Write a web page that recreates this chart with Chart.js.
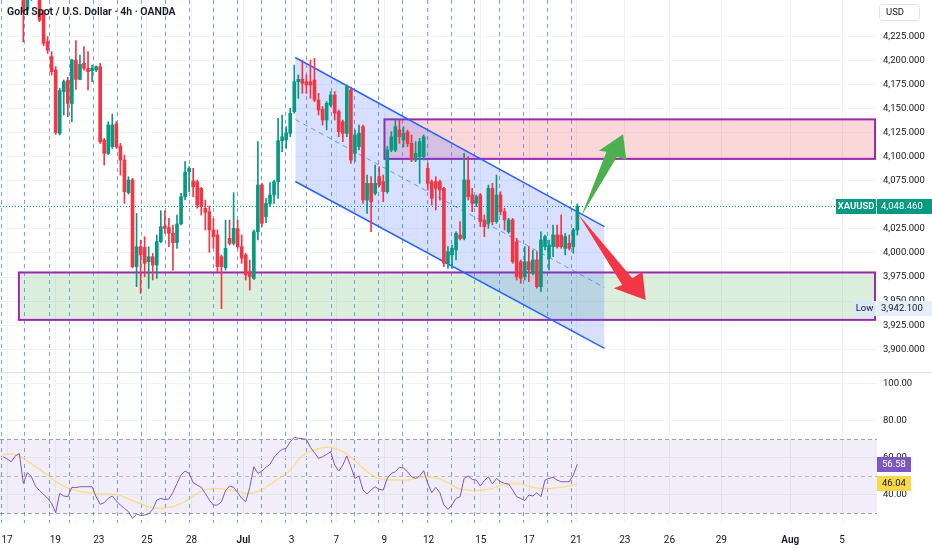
<!DOCTYPE html>
<html><head><meta charset="utf-8">
<script src="https://cdn.jsdelivr.net/npm/chart.js@4.4.1/dist/chart.umd.min.js"></script>
<style>
html,body{margin:0;padding:0;background:#fff;}
#wrap{position:relative;width:932px;height:550px;}
canvas{display:block;}
</style></head><body>
<div id="wrap"><canvas id="c" width="932" height="550"></canvas></div>
<script>
// ---------------- data ----------------
const chartTitle = 'Gold Spot / U.S. Dollar · 4h · OANDA';
const symbolName = 'XAUUSD';
const currencyLabel = 'USD';

const candleOpen = [4280,4288,4282,4290,4298,4275,4252,4268,4285,4280,
4248.7,4219.3,4203.7,4189.8,4124.1,4167.4,4178.8,4155.2,4200.2,4180.1,
4196.8,4191.6,4189.1,4189.8,4193.3,4117.2,4103.3,4110.3,4133.8,4111,
4096.4,4062.5,4075.7,3985.7,4006.4,4005.8,3990.9,3996.1,3987.4,4011.7,
4027.9,4026.2,4020.3,4010.6,4030,4058.4,4084.3,4074.6,4073.9,4067,
4046.3,4042.8,4023.8,4018.6,3996.1,3984.7,4015.1,4009.9,4025.1,4006.5,
3997.8,3980.5,3973.6,4022,4070.5,4037.6,4051.4,4060.1,4073.9,4116.5,
4117.2,4124.1,4146.6,4177.7,4180.2,4177.7,4177.7,4179.5,4158.7,4149,
4137.9,4153.5,4163.9,4146.6,4136.2,4124.1,4169.1,4103.3,4110.3,4131,
4054.9,4072.2,4061.8,4079.1,4074,4063.6,4106.8,4106.8,4127.6,4117.2,
4125.8,4113.7,4096.4,4099.9,4099.9,4087.8,4073.9,4074,4074,4067,
3989.2,3997.9,4003,4018.6,4015.1,4075.7,4060.1,4051.5,4060.1,4034.2,
4030.7,4067,4032.4,4060.1,4042.8,4022,4034.2,4011.7,3990.9,3975.4,
3990.9,3978.8,3992.7,3965,4006.5,3994.4,4006.5,4018.6,4018.6,4004.8,
4010,4006.5,4023.8];
const candleHigh = [4295,4300,4292,4305,4302,4282,4275,4290,4292,4288,
4252,4224.4,4208.9,4193.3,4170.8,4179.5,4182.2,4201,4220.3,4205.4,
4214.1,4208.9,4195,4194.3,4196.8,4118.9,4136.2,4144.2,4136.2,4113.7,
4101.6,4079.1,4077.4,4041,4013.4,4016.8,4006.5,3999.5,4018.6,4043.8,
4043.8,4035.9,4029,4039.3,4061.8,4094.7,4089.5,4087.8,4075.7,4068,
4054.9,4048.7,4035.9,4023.8,3997.8,4034.1,4034.1,4062.5,4034.1,4018.6,
3999.5,3992.6,4023.8,4115.5,4072.2,4056.6,4072.9,4075.7,4139.7,4143.1,
4131,4150,4195,4184.7,4200.2,4184.7,4200.2,4202,4165.6,4151.8,
4157,4167.4,4167.4,4148.3,4137.9,4174.3,4172,4127.6,4132.7,4132.7,
4080.9,4079.1,4091.2,4089.5,4080.9,4110.3,4125.8,4137.9,4137.9,4131,
4127.6,4122.4,4115.5,4118.9,4122.4,4093,4075.7,4079.1,4075.7,4068,
4006.5,4008.2,4022,4032.4,4103.4,4099.9,4067,4060.1,4061.8,4039.4,
4070.5,4072.2,4080.9,4063.6,4046.3,4035.9,4035.9,4015.1,3992.7,4006.5,
4006.5,4003,4001.3,4022,4018.6,4013.4,4029,4029,4039.4,4020.3,
4018.6,4025.5,4050.8];
const candleLow = [4270,4278,4272,4284,4268,4219,4248,4262,4270,4240,
4215,4207,4184.6,4123,4122.4,4143.1,4141.4,4136.2,4169.7,4179.5,
4189.8,4169.1,4177.7,4188.1,4113.7,4091.2,4102,4108.5,4108.5,4080.8,
4051.4,4061,3984.5,3965,3958,3975.3,3963.2,3971.9,3973.6,4010.5,
4020.3,4006.5,3982.2,4004.7,4029,4054.9,4063.6,4058.4,4046.3,4039.3,
4023.8,4000.6,4004.7,3980.5,3942.1,3982.2,4008.2,4008.2,4004.7,3989.2,
3971.9,3961.5,3972.5,4013.4,4027.2,4031.4,4048,4051.4,4056.6,4105.1,
4108.5,4120.6,4144.9,4160.4,4165.6,4165.6,4160.4,4157,4143.1,4132.7,
4127.6,4151.8,4137.9,4120.6,4115.5,4120.6,4093,4094.7,4106.8,4051.4,
4041,4022,4060.1,4068.7,4053.2,4061.8,4105,4105,4113.7,4110,
4110.3,4094.7,4094.7,4072.2,4096.4,4065.3,4049.7,4044.6,4055,3985.7,
3984,3984,3992.7,4013.4,4013.4,4055,4042.8,4048,4027.3,4016.9,
4025.5,4029,4030.7,4039.4,4023.8,4020.3,3989.2,3971.9,3968.4,3971.9,
3970.2,3977.1,3963.3,3959.8,4003,3982.3,3996.1,4004.8,4004.8,3997.9,
4003,3999.6,4018.6];
const candleClose = [4288,4282,4290,4298,4275,4250,4268,4285,4280,4241.7,
4217.5,4210.6,4188.1,4124.8,4168.4,4177.7,4155.2,4200.2,4180.1,4195.7,
4191.6,4188.1,4191.6,4193.3,4115.5,4103.3,4132.8,4132.8,4110.3,4096.4,
4063.6,4075.7,3985.7,4006.4,3997.8,3989.2,3996.1,3987.4,4011.7,4027.2,
4025.5,4020.3,4010.6,4030,4058.4,4083.6,4087.8,4068.7,4049.7,4048,
4042.1,4023.8,4016.9,3985.7,3985.7,4004.7,4009.9,4025.5,4006.5,3994.4,
3977.1,3975.3,4022,4070.5,4030.7,4051.4,4060.1,4073.9,4116.5,4120.6,
4124.8,4144.9,4177.7,4180.2,4176,4174.3,4174.3,4158.7,4148.3,4137.9,
4155.2,4163.9,4144.9,4125.8,4124.1,4172.5,4096.4,4122.4,4124.1,4054.9,
4072.2,4053.2,4072.2,4070.5,4063.6,4106.8,4120.6,4131,4120.6,4124.1,
4113.7,4096.4,4103.3,4115.5,4120.6,4072.2,4056.6,4067,4065.3,3989.2,
4001.3,4004.8,4020.3,4015.1,4075.7,4058.4,4051.5,4058.4,4032.4,4027.3,
4067,4032.4,4060.1,4042.8,4034.2,4034.2,3990.9,3975.4,3973.6,3990.9,
3982.3,3992.7,3965,4013.4,4016.9,4008.2,4018.6,4006.5,4006.5,4016.9,
4004.8,4023.8,4048.46];

const rsiValues = [60.6,59.4,57.9,61,62.4,46.2,52,49.8,44.8,42.3,
40.3,38.1,35.4,30.4,40.8,39.4,39,44.1,43.9,44.4,
44.4,44.4,44.4,39,34.9,35.8,38.1,39.4,36.7,34.5,
32.7,30.9,27.3,29.7,28.8,29.1,29.7,32.2,37.2,38.1,
37.4,37.8,41.4,46.2,50.7,52.9,51.6,46.6,45.3,44.1,
40.8,37.2,34.5,34.5,36.3,42.3,44.8,44.1,41.2,38.1,
36.3,44.1,55.2,51.6,52.9,54.9,56.5,60.3,62.8,64.6,
65.1,68.7,71.1,70.6,70.4,70,65.7,62.8,59.7,60.6,
61.9,63.3,56.1,52.9,56.1,61,55.2,48.9,50.2,42.6,
40.5,42.6,44.4,43,42.6,48.9,51.6,52.5,54.9,54.5,
52.5,49.8,48.9,50.2,53.1,46.2,41.2,44.1,41.2,34.5,
32.2,34.5,38.1,39,48.9,50.2,48.4,48,44.8,47.7,
49.8,45.9,48.9,47.1,46.2,45.9,42.6,39,38.1,36.9,
39.9,39.4,41.2,39,48,48.9,49.5,48,47.1,47.1,
47.1,50.7,56.58];
const rsiMA = [61.7,61.9,62.1,61.7,61,59.9,58.1,56.9,55.2,54,
52.2,50.7,48.7,47.3,45.9,44.8,43.7,43,42.4,41.9,
41.5,41.2,41,40.6,40.5,40.5,40.5,40.3,40.1,39.7,
38.8,37.8,36.9,36,35.2,34.3,33.6,33.1,32.9,32.7,
32.9,33.3,33.6,34.5,35.4,36.5,37.8,39.4,40.8,41.9,
42.6,43.2,43.5,43.5,43.3,43,42.6,42.3,41.7,41.4,
40.8,41,41.2,41.9,42.8,44.2,45.7,47.1,48.6,50,
51.3,53.4,55.8,59,61,62.6,63.5,64.4,65,65.5,
65.7,65.7,65.1,64.4,63.3,62.1,60.3,58.3,56.5,54.5,
52.5,51.1,49.8,48.9,48.4,48.2,48,48,48,48,
48,48.6,48.9,49.5,49.8,49.8,49.7,49.1,48.6,47.5,
46.6,45.2,43.9,43.2,42.8,42.6,42.4,42.3,42.4,42.6,
43,43.5,44.2,45,45.5,45.9,46.1,46.2,45.9,45.3,
44.6,44.1,43.7,43.5,43.5,43.5,43.7,43.9,44.1,44.4,
44.8,45.5,46.04];

const dateTickIdx = [0.99,12.92,23.66,35.57,46.61,59.43,71.34,82.38,94.28,105.2,118.14,130.05,141.68,153.74,164.78,177.6,194.65,207.48];
const dateTickLabels = ['17','19','23','25','28','Jul','3','7','9','12','15','17','21','23','26','29','Aug','5'];
const sessionLineIdx = [-0.5,5.25,11.35,16.4,22.35,28.25,34.3,40.25,46.1,52.05,58.05,64,69.95,75,81.1,86.95,92.85,98.8,104.85,110.8,116.65,122.75,128.6,134.55,140.55];
const priceTicks = [3900,3925,3950,3975,4000,4025,4050,4075,4100,4125,4150,4175,4200,4225];
const rsiTicks = [40,60,80,100];
const rsiBands = [70,50,30];

// drawings (in index / price units)
const zoneEndIdx = 215.6;
const resistanceZone = [4097.6, 4138.6];
const resistanceStartIdx = 94.3;
const supportZone = [3930.5, 3979.7];
const supportStartIdx = 3.9;
const channelIdx = [72.25, 148.7];
const channelUpper = [4202.8, 4027.2];
const channelLower = [4074.1, 3901.0];
const bullArrowIdx = [143.0,149.2,147.3,153.3,154.1,151.8];
const bullArrowPrice = [4038.3,4105.0,4106.1,4123.1,4096.4,4099.9];
const bearArrowIdx = [142.2,155.6,158.1,158.9,151.0,153.1];
const bearArrowPrice = [4040.4,3973.7,3980.5,3951.2,3963.3,3966.7];
const lowPrice = 3942.1;

// view ranges
const X_MIN = -0.77, X_MAX = 216.1;
const PRICE_MIN = 3876.4, PRICE_MAX = 4262.5;
const RSI_MIN = 24.8, RSI_MAX = 106.4;

// ---------------- styling ----------------
const UP = '#089981', DOWN = '#f23645';
const FONT = 'Roboto, "Noto Sans", "Liberation Sans", sans-serif';
Chart.defaults.font.family = FONT;
Chart.defaults.color = '#131722';

const idx = candleOpen.map((_, i) => i);
const candleColor = idx.map(i => candleClose[i] >= candleOpen[i] ? UP : DOWN);
const lastClose = candleClose[candleClose.length - 1];
const lastRsi = rsiValues[rsiValues.length - 1];
const lastMA = rsiMA[rsiMA.length - 1];
const fmtPrice = v => v.toLocaleString('en-US', {minimumFractionDigits: 3, maximumFractionDigits: 3});

const midLine = channelUpper.map((u, i) => (u + channelLower[i]) / 2);

function hLine(ctx, x1, x2, yy) { ctx.beginPath(); ctx.moveTo(x1, yy); ctx.lineTo(x2, yy); ctx.stroke(); }

const decor = {
  id: 'decor',
  beforeDatasetsDraw(chart) {
    const {ctx, scales: {x, y, y2}} = chart;
    ctx.save();
    // RSI band
    const bTop = y2.getPixelForValue(rsiBands[0]);
    const bBot = y2.getPixelForValue(rsiBands[2]);
    ctx.fillStyle = 'rgba(126,87,194,0.10)';
    ctx.fillRect(x.left, bTop, x.right - x.left, bBot - bTop);
    ctx.lineWidth = 1;
    ctx.setLineDash([4, 3]);
    rsiBands.forEach((v, i) => {
      ctx.strokeStyle = i === 1 ? 'rgba(120,123,134,0.45)' : 'rgba(120,123,134,0.7)';
      hLine(ctx, x.left, x.right, Math.round(y2.getPixelForValue(v)) + 0.5);
    });
    ctx.setLineDash([]);
    // price pane clip
    ctx.beginPath();
    ctx.rect(x.left, y.top, x.right - x.left, y.bottom - y.top);
    ctx.clip();
    const zone = (start, lo, hi, fill) => {
      const x1 = x.getPixelForValue(start), x2 = x.getPixelForValue(zoneEndIdx);
      const y1 = y.getPixelForValue(hi), yb = y.getPixelForValue(lo);
      ctx.fillStyle = fill;
      ctx.fillRect(x1, y1, x2 - x1, yb - y1);
      ctx.strokeStyle = '#9c27b0';
      ctx.lineWidth = 2;
      ctx.strokeRect(x1, y1, x2 - x1, yb - y1);
    };
    zone(supportStartIdx, supportZone[0], supportZone[1], 'rgba(76,175,80,0.2)');
    zone(resistanceStartIdx, resistanceZone[0], resistanceZone[1], 'rgba(242,54,69,0.2)');
    // last price dotted line
    ctx.strokeStyle = UP;
    ctx.lineWidth = 1;
    ctx.setLineDash([1, 2]);
    hLine(ctx, x.left, x.right, Math.round(y.getPixelForValue(lastClose)) + 0.5);
    ctx.restore();
  },
  afterDatasetsDraw(chart) {
    const {ctx, scales: {x, y}} = chart;
    const poly = (xs, ps, color) => {
      ctx.beginPath();
      xs.forEach((v, i) => {
        const px = x.getPixelForValue(v), py = y.getPixelForValue(ps[i]);
        if (i === 0) ctx.moveTo(px, py); else ctx.lineTo(px, py);
      });
      ctx.closePath();
      ctx.fillStyle = color;
      ctx.fill();
    };
    ctx.save();
    poly(bullArrowIdx, bullArrowPrice, '#4caf50');
    poly(bearArrowIdx, bearArrowPrice, '#f23645');
    ctx.restore();
  },
  afterDraw(chart) {
    const {ctx, scales: {x, y, y2}} = chart;
    const W = chart.width;
    ctx.save();
    // pane separator
    ctx.strokeStyle = '#e0e3eb';
    ctx.lineWidth = 1;
    hLine(ctx, 0, W, Math.round(y2.top) + 0.5);
    // title
    ctx.fillStyle = '#131722';
    ctx.font = '600 10.5px ' + FONT;
    ctx.textAlign = 'left';
    ctx.textBaseline = 'middle';
    ctx.fillText(chartTitle, 7, 12);
    // currency box
    ctx.fillStyle = '#fff';
    ctx.strokeStyle = '#e0e3eb';
    ctx.beginPath();
    ctx.roundRect(y.left + 2.5, 4.5, 40, 16, 3);
    ctx.fill(); ctx.stroke();
    ctx.fillStyle = '#131722';
    ctx.font = '9.5px ' + FONT;
    ctx.fillText(currencyLabel, y.left + 9, 12.5);

    const tag = (x0, w, yc, bg, fg, text, tx, align, weight) => {
      ctx.fillStyle = bg;
      ctx.fillRect(x0, Math.round(yc - 7.5), w, 15);
      ctx.fillStyle = fg;
      ctx.textAlign = align;
      ctx.textBaseline = 'middle';
      ctx.font = (weight || '400') + ' 9.5px ' + FONT;
      ctx.fillText(text, tx, Math.round(yc - 7.5) + 8);
    };
    const axisW = W - y.left;
    // last price tags
    const yp = y.getPixelForValue(lastClose);
    tag(y.left, axisW, yp, UP, '#fff', fmtPrice(lastClose), y.left + 4, 'left');
    tag(y.left - 41, 40, yp, UP, '#fff', symbolName, y.left - 21, 'center', '600');
    // low tags
    const yl = y.getPixelForValue(lowPrice);
    tag(y.left - 24, 23, yl, '#dde7f8', '#131722', 'Low', y.left - 12.5, 'center');
    tag(y.left, axisW, yl, '#e6eefb', '#131722', fmtPrice(lowPrice), y.left + 4, 'left');
    // RSI tags
    tag(y2.left, 34, y2.getPixelForValue(lastRsi), '#7e57c2', '#fff', lastRsi.toFixed(2), y2.left + 5, 'left');
    tag(y2.left, 34, y2.getPixelForValue(lastMA), '#fbd84a', '#131722', lastMA.toFixed(2), y2.left + 5, 'left');
    ctx.restore();
  }
};

const noPad = s => { s.paddingTop = 0; s.paddingBottom = 0; s.paddingLeft = 0; s.paddingRight = 0; };

new Chart(document.getElementById('c'), {
  type: 'bar',
  data: {
    datasets: [
      { label: 'wicks', xAxisID: 'x', yAxisID: 'y', grouped: false, order: 1,
        data: idx.map(i => ({x: i, y: [candleLow[i], candleHigh[i]]})),
        backgroundColor: candleColor, barThickness: 1, minBarLength: 1 },
      { label: 'bodies', xAxisID: 'x', yAxisID: 'y', grouped: false, order: 0,
        data: idx.map(i => ({x: i, y: [candleOpen[i], candleClose[i]]})),
        backgroundColor: candleColor, barThickness: 3, minBarLength: 1 },
      { type: 'line', label: 'upper', xAxisID: 'x', yAxisID: 'y', order: 3,
        data: channelIdx.map((v, i) => ({x: v, y: channelUpper[i]})),
        borderColor: '#2962ff', borderWidth: 1.5, pointRadius: 0, fill: false },
      { type: 'line', label: 'lower', xAxisID: 'x', yAxisID: 'y', order: 3,
        data: channelIdx.map((v, i) => ({x: v, y: channelLower[i]})),
        borderColor: '#2962ff', borderWidth: 1.5, pointRadius: 0,
        fill: {target: 2}, backgroundColor: 'rgba(41,98,255,0.19)' },
      { type: 'line', label: 'mid', xAxisID: 'x', yAxisID: 'y', order: 3,
        data: channelIdx.map((v, i) => ({x: v, y: midLine[i]})),
        borderColor: 'rgba(41,98,255,0.6)', borderWidth: 1, borderDash: [5, 4], pointRadius: 0, fill: false },
      { type: 'line', label: 'RSI', xAxisID: 'x', yAxisID: 'y2', order: 2,
        data: idx.map(i => ({x: i, y: rsiValues[i]})),
        borderColor: '#7e57c2', borderWidth: 1, pointRadius: 0, fill: false, tension: 0 },
      { type: 'line', label: 'RSI MA', xAxisID: 'x', yAxisID: 'y2', order: 2,
        data: idx.map(i => ({x: i, y: rsiMA[i]})),
        borderColor: 'rgba(248,214,80,0.6)', borderWidth: 1.5, pointRadius: 0, fill: false, tension: 0.3 }
    ]
  },
  options: {
    responsive: false, maintainAspectRatio: false, animation: false,
    layout: {padding: 0},
    plugins: {legend: {display: false}, tooltip: {enabled: false}},
    scales: {
      x: {
        type: 'linear', position: 'bottom', min: X_MIN, max: X_MAX, offset: false,
        grid: {offset: false, color: '#eef1f7', drawTicks: false},
        border: {display: false},
        ticks: {
          autoSkip: false, maxRotation: 0, padding: 11, color: '#131722',
          font: ctx => ({size: 10, weight: /^[A-Za-z]/.test(dateTickLabels[ctx.index] || '') ? '600' : '400'}),
          callback: (v, i) => dateTickLabels[i]
        },
        afterBuildTicks: s => { s.ticks = dateTickIdx.map(v => ({value: v})); },
        afterFit: s => { s.height = 27; noPad(s); }
      },
      xd: {
        type: 'linear', position: 'bottom', min: X_MIN, max: X_MAX, offset: false,
        grid: {offset: false, color: 'rgba(41,98,255,0.62)', lineWidth: 1, drawTicks: false},
        border: {display: false, dash: [4, 4]},
        ticks: {display: false},
        afterBuildTicks: s => { s.ticks = sessionLineIdx.map(v => ({value: v})); },
        afterFit: s => { s.height = 0; noPad(s); }
      },
      y: {
        type: 'linear', position: 'right', stack: 'panes', stackWeight: 372,
        min: PRICE_MIN, max: PRICE_MAX, beginAtZero: false,
        grid: {color: '#f0f3fa', drawTicks: false},
        border: {display: false},
        ticks: {padding: 6, color: '#131722', font: {size: 9.5}, callback: v => fmtPrice(v)},
        afterBuildTicks: s => { s.ticks = priceTicks.map(v => ({value: v})); },
        afterFit: s => { s.width = 55; noPad(s); }
      },
      y2: {
        type: 'linear', position: 'right', stack: 'panes', stackWeight: 151,
        min: RSI_MIN, max: RSI_MAX, beginAtZero: false,
        grid: {color: '#f0f3fa', drawTicks: false},
        border: {display: false},
        ticks: {padding: 6, color: '#131722', font: {size: 9.5}, callback: v => v.toFixed(2)},
        afterBuildTicks: s => { s.ticks = rsiTicks.map(v => ({value: v})); },
        afterFit: s => { s.width = 55; noPad(s); }
      }
    }
  },
  plugins: [decor]
});
</script>
</body></html>
